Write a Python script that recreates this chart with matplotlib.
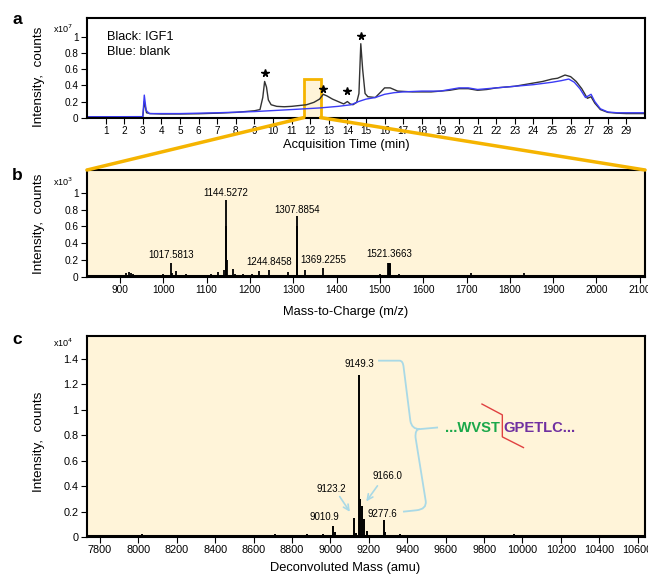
import numpy as np
import matplotlib
matplotlib.use("Agg")
import matplotlib.pyplot as plt
from matplotlib.patches import Rectangle, ConnectionPatch, PathPatch
from matplotlib.path import Path

plt.rcParams['font.family'] = ['Liberation Sans', 'DejaVu Sans']

# ---- panel a: total ion chromatogram (x1e7 counts) ----
igf1_t = [0.0, 3.0, 3.08, 3.2, 3.4, 4.0, 5.0, 6.0, 7.0, 8.0, 8.5, 9.0, 9.3, 9.45, 9.55, 9.65,
          9.75, 9.9, 10.2, 10.6, 11.0, 11.4, 11.8, 12.2, 12.5, 12.7, 12.9, 13.2, 13.5, 13.8,
          14.0, 14.15, 14.3, 14.5, 14.62, 14.72, 14.82, 14.95, 15.1, 15.5, 15.8, 16.0, 16.3,
          16.7, 17.5, 18.5, 19.5, 20.0, 20.5, 21.0, 21.5, 22.0, 22.5, 23.0, 23.5, 24.0, 24.5,
          25.0, 25.3, 25.7, 26.0, 26.3, 26.6, 26.9, 27.1, 27.3, 27.6, 28.0, 28.5, 29.0, 30.0]
igf1_i = [0.01, 0.01, 0.2, 0.06, 0.05, 0.045, 0.045, 0.048, 0.055, 0.065, 0.075, 0.085, 0.1,
          0.25, 0.45, 0.38, 0.22, 0.16, 0.14, 0.135, 0.14, 0.15, 0.16, 0.19, 0.23, 0.29, 0.27,
          0.23, 0.2, 0.17, 0.2, 0.17, 0.16, 0.19, 0.3, 0.92, 0.6, 0.3, 0.26, 0.25, 0.32, 0.37,
          0.37, 0.33, 0.32, 0.32, 0.34, 0.36, 0.36, 0.34, 0.35, 0.37, 0.38, 0.39, 0.41, 0.43,
          0.45, 0.48, 0.49, 0.53, 0.51, 0.45, 0.36, 0.24, 0.26, 0.18, 0.1, 0.065, 0.055, 0.05,
          0.05]
blank_t = [0.0, 3.0, 3.08, 3.18, 3.35, 5.0, 7.0, 9.0, 11.0, 12.5, 13.5, 14.2, 14.6, 15.0, 15.5,
           16.0, 16.5, 17.0, 18.0, 19.0, 19.5, 20.0, 20.5, 21.0, 22.0, 23.0, 24.0, 25.0, 25.5,
           25.9, 26.2, 26.5, 26.8, 27.1, 27.3, 27.6, 28.0, 28.5, 30.0]
blank_i = [0.01, 0.012, 0.28, 0.09, 0.05, 0.05, 0.06, 0.075, 0.1, 0.12, 0.14, 0.16, 0.2, 0.23,
           0.25, 0.29, 0.31, 0.32, 0.33, 0.33, 0.35, 0.37, 0.37, 0.35, 0.37, 0.39, 0.41, 0.44,
           0.46, 0.48, 0.44, 0.36, 0.25, 0.29, 0.2, 0.11, 0.07, 0.06, 0.06]
star_t = [9.55, 12.7, 14.0, 14.75]
star_i = [0.55, 0.36, 0.33, 1.02]
zoom_window = [11.66, 12.56]

# ---- panel b: MS spectrum at 11.7-12.6 min (x1e3 counts) ----
mz = [842, 870, 905, 915, 920, 925, 930, 1000, 1017.58, 1020, 1030, 1052, 1110, 1127, 1141,
      1144.53, 1145.3, 1146.2, 1160, 1165, 1185, 1205, 1222, 1244.85, 1289, 1307.89, 1308.6,
      1309.5, 1327, 1369.23, 1400, 1500, 1519.5, 1520.5, 1521.37, 1522.3, 1523.2, 1545, 1710,
      1833, 1990]
mz_int = [0.02, 0.015, 0.02, 0.05, 0.06, 0.05, 0.03, 0.03, 0.17, 0.05, 0.07, 0.03, 0.04, 0.06,
          0.08, 0.91, 0.6, 0.2, 0.1, 0.04, 0.03, 0.03, 0.07, 0.08, 0.06, 0.72, 0.6, 0.14, 0.08,
          0.11, 0.02, 0.03, 0.17, 0.17, 0.17, 0.17, 0.16, 0.03, 0.05, 0.05, 0.02]
mz_labels = ['1017.5813', '1144.5272', '1244.8458', '1307.8854', '1369.2255', '1521.3663']
mz_label_x = [1017.6, 1144.5, 1244.8, 1307.9, 1369.2, 1521.4]
mz_label_y = [0.26, 1.0, 0.18, 0.8, 0.2, 0.27]

# ---- panel c: deconvoluted spectrum (x1e4 counts) ----
mass = [8020, 8210, 8420, 8550, 8710, 8880, 8960, 9010.9, 9022, 9123.2, 9135, 9149.3, 9156,
        9166.0, 9175, 9190, 9277.6, 9285, 9360, 9420, 9580, 9700, 9955, 10305, 10640]
mass_int = [0.02, 0.015, 0.012, 0.012, 0.02, 0.02, 0.02, 0.09, 0.04, 0.15, 0.03, 1.27, 0.3,
            0.24, 0.14, 0.05, 0.13, 0.04, 0.025, 0.01, 0.015, 0.01, 0.025, 0.015, 0.02]
mass_labels = ['9149.3', '9166.0', '9123.2', '9010.9', '9277.6']
mass_label_x = [9149, 9298, 9005, 8968, 9272]
mass_label_y = [1.36, 0.48, 0.38, 0.157, 0.18]

W, H = 648, 577
fig = plt.figure(figsize=(W / 100, H / 100), dpi=100)


def px_axes(l, t, r, b):
    return fig.add_axes([l / W, 1 - b / H, (r - l) / W, (b - t) / H])


def fx(x, y):
    return x / W, 1 - y / H


yellow = '#FFF4D9'
orange = '#F5B400'
lblue = '#A9D9E6'


def style(ax, size):
    for s in ax.spines.values():
        s.set_linewidth(1.5)
    ax.tick_params(direction='out', length=4, width=0.8, labelsize=size, pad=2)


# panel a
axa = px_axes(87, 18, 645, 118)
style(axa, 7.2)
axa.add_patch(Rectangle((zoom_window[0], 0), zoom_window[1] - zoom_window[0], 0.48,
                        facecolor=yellow, edgecolor=orange, lw=2, zorder=1))
axa.plot(igf1_t, igf1_i, color='#333333', lw=1.0, zorder=2)
axa.plot(blank_t, blank_i, color='#3B3BF5', lw=1.0, zorder=2)
axa.plot(star_t, star_i, ls='none', marker='*', ms=5.5, color='black')
axa.set_xlim(0, 30)
axa.set_ylim(-0.005, 1.24)
axa.set_xticks(range(1, 30))
axa.set_yticks([0, 0.2, 0.4, 0.6, 0.8, 1])
axa.set_yticklabels(['0', '0.2', '0.4', '0.6', '0.8', '1'])
axa.text(0.036, 0.81, 'Black: IGF1', transform=axa.transAxes, fontsize=9.2, va='center')
axa.text(0.036, 0.66, 'Blue: blank', transform=axa.transAxes, fontsize=9.2, va='center')

# panel b
axb = px_axes(87, 170, 645, 277)
style(axb, 7.3)
axb.set_facecolor(yellow)
axb.vlines(mz, 0, mz_int, color='black', lw=1.3)
axb.axhline(0.006, color='black', lw=2.2)
for lab, x, y in zip(mz_labels, mz_label_x, mz_label_y):
    axb.text(x, y, lab, ha='center', va='center', fontsize=7)
axb.set_xlim(824, 2112)
axb.set_ylim(0, 1.27)
axb.set_xticks(range(900, 2101, 100))
axb.set_yticks([0, 0.2, 0.4, 0.6, 0.8, 1])
axb.set_yticklabels(['0', '0.2', '0.4', '0.6', '0.8', '1'])

# panel c
axc = px_axes(87, 336, 645, 537)
style(axc, 7.8)
axc.set_facecolor(yellow)
axc.vlines(mass, 0, mass_int, color='black', lw=1.4)
axc.axhline(0.006, color='black', lw=2.2)
for lab, x, y in zip(mass_labels, mass_label_x, mass_label_y):
    axc.text(x, y, lab, ha='center', va='center', fontsize=7)
axc.set_xlim(7732, 10638)
axc.set_ylim(0, 1.58)
axc.set_xticks(range(7800, 10601, 200))
axc.set_yticks([0, 0.2, 0.4, 0.6, 0.8, 1, 1.2, 1.4])
axc.set_yticklabels(['0', '0.2', '0.4', '0.6', '0.8', '1', '1.2', '1.4'])

# arrows to the shoulder peaks
axc.annotate('', xy=(9109, 0.18), xytext=(9040, 0.336),
             arrowprops=dict(arrowstyle='->', color=lblue, lw=1.2))
axc.annotate('', xy=(9178, 0.262), xytext=(9253, 0.42),
             arrowprops=dict(arrowstyle='->', color=lblue, lw=1.2))

# curly brace linking 9149.3 and 9277.6
verts = [(9248, 1.386), (9360, 1.386), (9378, 1.386), (9381, 1.333), (9416, 0.913),
         (9423, 0.848), (9464, 0.848), (9560, 0.861),
         (9464, 0.848), (9440, 0.848), (9443, 0.782), (9496, 0.283), (9502, 0.218),
         (9447, 0.21), (9378, 0.199)]
codes = [Path.MOVETO, Path.LINETO, Path.CURVE3, Path.CURVE3, Path.LINETO,
         Path.CURVE3, Path.CURVE3, Path.LINETO,
         Path.MOVETO, Path.CURVE3, Path.CURVE3, Path.LINETO, Path.CURVE3,
         Path.CURVE3, Path.LINETO]
axc.add_patch(PathPatch(Path(verts, codes), facecolor='none', edgecolor=lblue, lw=1.3))

# sequence with cleavage site
axc.text(9594, 0.86, '...WVST', color='#1BA84A', fontsize=10.6, fontweight='bold',
         ha='left', va='center')
axc.text(9898, 0.86, 'GPETLC...', color='#7030A0', fontsize=10.6, fontweight='bold',
         ha='left', va='center')
axc.plot([9789, 9895, 9895, 10005], [1.045, 0.96, 0.787, 0.703], color='#E04040', lw=1.0)

# axis labels and annotations in figure pixels
fig.text(*fx(346, 145), 'Acquisition Time (min)', ha='center', va='center', fontsize=9.3)
fig.text(*fx(346, 312), 'Mass-to-Charge (m/z)', ha='center', va='center', fontsize=9.3)
fig.text(*fx(345, 568), 'Deconvoluted Mass (amu)', ha='center', va='center', fontsize=9.3)
for yc in (77, 224, 442):
    fig.text(*fx(39, yc), 'Intensity,  counts', rotation=90, ha='center', va='center',
             fontsize=9.7)
for yc, e in ((29, 7), (182, 3), (343, 4)):
    fig.text(*fx(53, yc), r'x10$^{%d}$' % e, ha='left', va='center', fontsize=6.5)
for yc, letter in ((19, 'a'), (175, 'b'), (340, 'c')):
    fig.text(*fx(17, yc), letter, ha='center', va='center', fontsize=12.5, fontweight='bold')

# zoom connectors from the chromatogram window to panel b
for xa, xb in ((zoom_window[0], 0), (zoom_window[1], 1)):
    con = ConnectionPatch(xyA=(xa, 0), coordsA=axa.transData, xyB=(xb, 1),
                          coordsB=axb.transAxes, color=orange, lw=2.5)
    fig.add_artist(con)

fig.savefig('out.png', dpi=100)
